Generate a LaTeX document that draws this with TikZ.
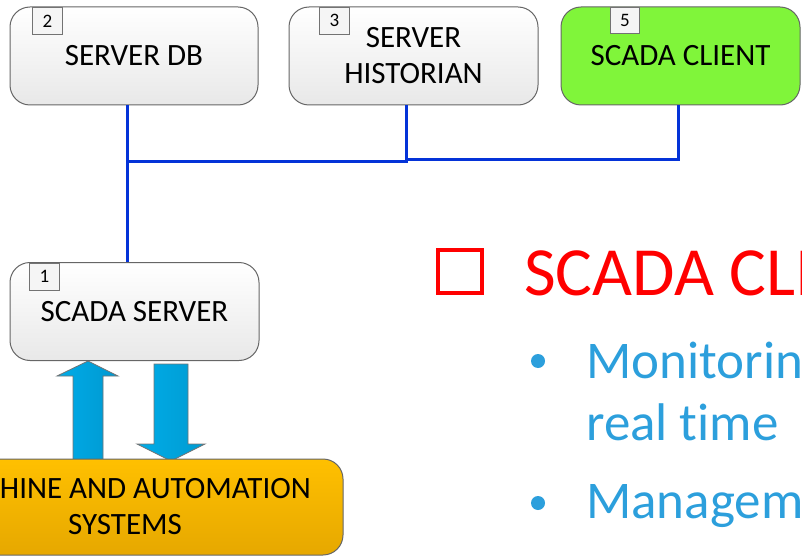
\documentclass[tikz,border=0pt]{standalone}
\usepackage{fontspec}
\setmainfont{Carlito}[Ligatures=CommonOff]
\definecolor{busblue}{RGB}{4,51,216}
\definecolor{clientgreen}{RGB}{128,245,58}
\definecolor{plantyellowtop}{RGB}{255,192,0}
\definecolor{plantyellowbot}{RGB}{230,168,0}
\definecolor{flowlight}{RGB}{0,172,232}
\definecolor{flowdark}{RGB}{0,152,208}
\definecolor{itemblue}{RGB}{44,159,220}
\begin{document}
\begin{tikzpicture}[x=1pt,y=-1pt,
  box/.style={draw=black!60, line width=1pt, rounded corners=20pt,
    top color=white, bottom color=black!9, align=center, inner sep=0pt,
    font=\fontsize{31}{36}\selectfont},
  badge/.style={draw=black!55, line width=0.7pt, fill=black!4,
    minimum width=30pt, minimum height=27pt, inner sep=0pt,
    anchor=north west, font=\fontsize{19}{20}\selectfont},
  bus/.style={draw=busblue, line width=3pt},
  flow/.style={draw=black!55, line width=0.8pt, left color=flowlight, right color=flowdark},
  heading/.style={anchor=base west, inner xsep=0pt, text=red, font=\fontsize{69}{69}\selectfont},
  item/.style={anchor=base west, inner xsep=0pt, text=itemblue, font=\fontsize{53}{53}\selectfont},
]
\useasboundingbox (0,0) rectangle (802,556);
\clip (0,0) rectangle (802,556);

% data flow arrows between the SCADA server and the plant
\draw[flow] (73,460) -- (73,376) -- (57,376) -- (88,361) -- (118,376)
  -- (103,376) -- (103,460) -- cycle;
\draw[flow, left color=flowlight, right color=flowlight!90!black]
  (154,364) -- (188,364) -- (188,444) -- (205,444) -- (171,461)
  -- (137,444) -- (154,444) -- cycle;

% servers and client
\node[box, minimum width=248pt, minimum height=98pt] (db) at (134,56) {SERVER DB};
\node[box, minimum width=249pt, minimum height=98pt] (hist) at (413.5,56) {SERVER\\HISTORIAN};
\node[box, top color=clientgreen, bottom color=clientgreen, minimum width=239pt,
  minimum height=98pt] (client) at (680.5,56) {SCADA CLIENT};
\node[box, minimum width=249pt, minimum height=98pt] (srv) at (134.5,311.5) {SCADA SERVER};
\node[box, top color=plantyellowtop, bottom color=plantyellowbot, minimum width=436pt,
  minimum height=96pt] (plant) at (125,507) {MACHINE AND AUTOMATION\\SYSTEMS};

% numbered badges
\node[badge] (b2) at (32,7) {2};
\node[badge] (b3) at (319,7) {3};
\node[badge, minimum width=29pt, minimum height=26pt] (b5) at (610,7) {5};
\node[badge] (b1) at (29,263) {1};

% network bus
\coordinate (j1) at (127,162);
\coordinate (j2) at (406,160);
\draw[bus] ([xshift=-7pt]db.south) -- ([xshift=-7.5pt]srv.north);
\draw[bus] ([xshift=-7.5pt]hist.south) |- (j1);
\draw[bus] ([xshift=-2.5pt]client.south) |- (j2);

% description text
\draw[red, line width=4pt] (438,250) rectangle (482,293);
\node[heading] (title) at (524,295) {SCADA CLIENT};
\fill[itemblue] (538,361) circle (7);
\node[item] (item1) at (586,378) {Monitoring};
\node[item] (item1b) at (586,440) {real time};
\fill[itemblue] (538,503) circle (7);
\node[item] (item2) at (586,518) {Management};
\end{tikzpicture}
\end{document}
